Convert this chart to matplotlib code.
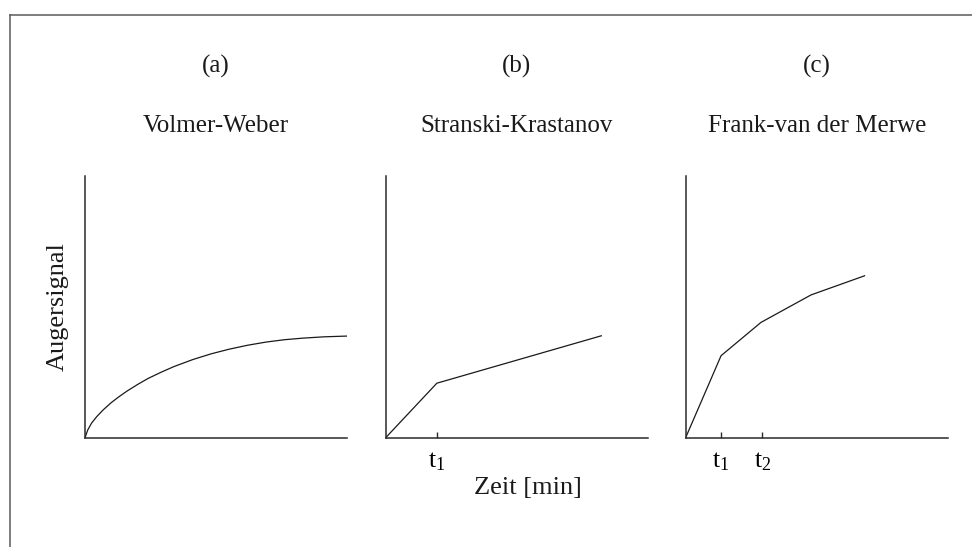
import matplotlib
matplotlib.use("Agg")
import matplotlib.pyplot as plt
from matplotlib.lines import Line2D

plt.rcParams['font.family'] = ['Liberation Serif', 'DejaVu Serif']
plt.rcParams['mathtext.fontset'] = 'custom'
plt.rcParams['mathtext.rm'] = 'Liberation Serif'
plt.rcParams['mathtext.it'] = 'Liberation Serif:italic'

# (a) Volmer-Weber: saturating curve
vw_x = [0, 0.1, 0.25, 0.45, 0.7, 1.0, 1.3, 1.6, 2.0, 2.4, 2.9, 3.4, 4.1, 4.8, 5.5, 6.2, 6.9, 7.6, 8.3, 9.1, 10.0]
vw_y = [0, 0.29, 0.56, 0.81, 1.07, 1.34, 1.57, 1.78, 2.03, 2.26, 2.50, 2.72, 2.98, 3.20, 3.38, 3.53, 3.65, 3.74, 3.80, 3.85, 3.88]

# (b) Stranski-Krastanov: one kink at t1
sk_x = [0, 1.95, 8.22]
sk_y = [0, 2.08, 3.89]
sk_ticks = [1.95]
sk_labels = [r'$\mathrm{t}_1$']

# (c) Frank-van der Merwe: kinks at each completed layer
fm_x = [0, 1.35, 2.87, 4.78, 6.82]
fm_y = [0, 3.13, 4.40, 5.45, 6.18]
fm_ticks = [1.35, 2.92]
fm_labels = [r'$\mathrm{t}_1$', r'$\mathrm{t}_2$']

letters = ['(a)', '(b)', '(c)']
titles = ['Volmer-Weber', 'Stranski-Krastanov', 'Frank-van der Merwe']

fig = plt.figure(figsize=(9.72, 5.47), dpi=100)

# gray frame: top and left edge only
fig.add_artist(Line2D([0.0103, 1.0], [0.9726, 0.9726], transform=fig.transFigure, color='#5a5a5a', lw=1.1))
fig.add_artist(Line2D([0.0103, 0.0103], [0.0, 0.9726], transform=fig.transFigure, color='#5a5a5a', lw=1.1))

lefts = [0.0875, 0.3968, 0.7054]
data = [(vw_x, vw_y, [], []), (sk_x, sk_y, sk_ticks, sk_labels), (fm_x, fm_y, fm_ticks, fm_labels)]

for i, (xs, ys, ticks, tlabels) in enumerate(data):
    ax = fig.add_axes([lefts[i], 0.1998, 0.2699, 0.479])
    ax.plot(xs, ys, color='#1a1a1a', lw=0.9)
    ax.set_xlim(0, 10)
    ax.set_ylim(0, 10)
    for s in ['top', 'right']:
        ax.spines[s].set_visible(False)
    for s in ['left', 'bottom']:
        ax.spines[s].set_color('#2a2a2a')
        ax.spines[s].set_linewidth(1.1)
    ax.set_yticks([])
    ax.set_xticks(ticks)
    ax.set_xticklabels(tlabels, fontsize=18.5)
    ax.tick_params(axis='x', direction='in', length=4.5, width=1.0, color='#2a2a2a', pad=9)
    ax.patch.set_alpha(0)

    cx = lefts[i] + 0.2699 / 2
    fig.text(cx, 0.867, letters[i], ha='center', va='baseline', fontsize=18, color='#1a1a1a')
    fig.text(cx, 0.759, titles[i], ha='center', va='baseline', fontsize=18, color='#1a1a1a')

fig.text(0.0597, 0.4388, 'Augersignal', rotation=90, ha='center', va='center', fontsize=19, color='#1a1a1a')
fig.text(0.543, 0.0963, 'Zeit [min]', ha='center', va='baseline', fontsize=19, color='#1a1a1a')

fig.savefig('out.png', dpi=100)
